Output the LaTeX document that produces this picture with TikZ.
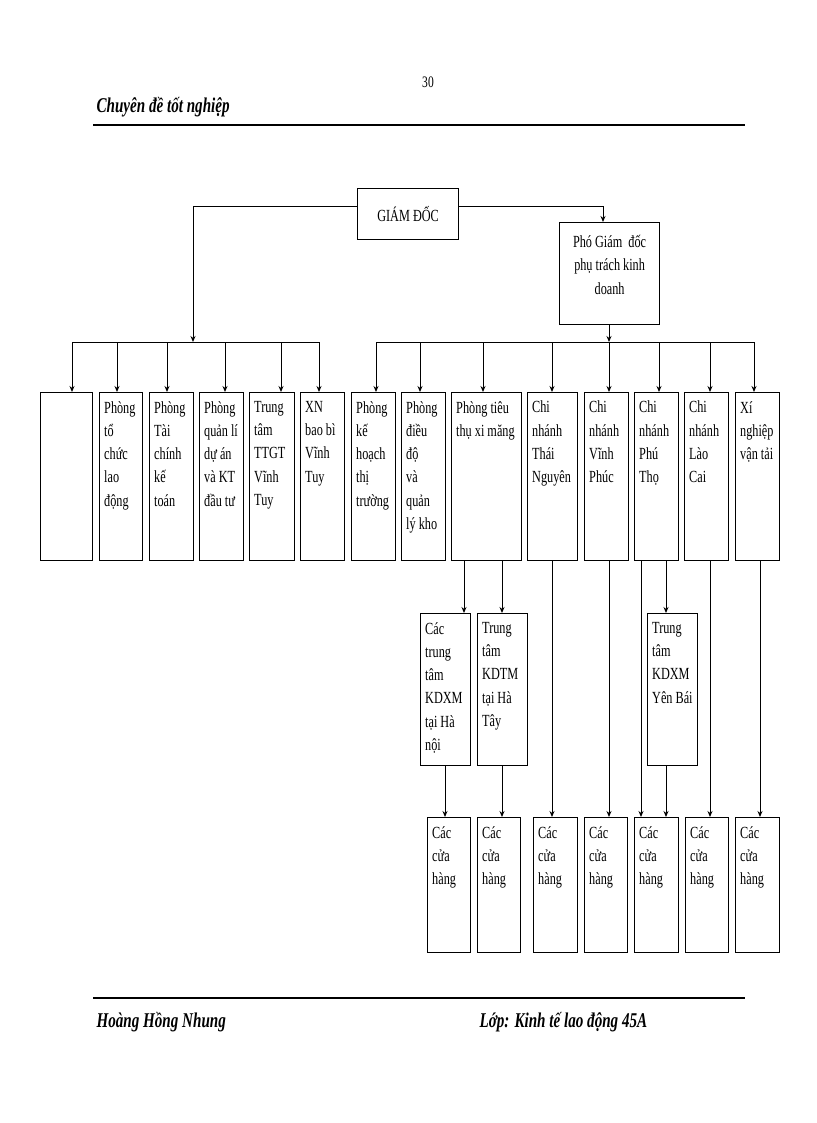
\documentclass[tikz,border=0pt]{standalone}
\usepackage{fontspec}
\setmainfont{Liberation Serif}
\newfontfamily\nar[FakeStretch=0.72]{Liberation Serif}
\usetikzlibrary{arrows.meta}
\newcommand\bx[6]{\node[bxs, minimum width=#4pt-#2pt, minimum height=#5pt-#3pt, anchor=north west] (#1) at (#2,#3) {};
\node[lbl, anchor=north west] (#1t) at ([xshift=5pt, yshift=-9pt]#1.north west) {#6};}
\begin{document}
\begin{tikzpicture}[x=1pt,y=-1pt,
 bxs/.style={draw, line width=1.2pt, inner sep=0pt},
 lbl/.style={inner sep=0pt, align=left, font=\nar\fontsize{17}{23.3}\selectfont},
 arr/.style={line width=0.9pt, -{Stealth[length=6pt,width=5pt]}},
 ln/.style={line width=0.9pt}]
\useasboundingbox (0,0) rectangle (816,1123);
\node (pg) at (428,82) {\fontsize{16}{18}\selectfont\nar 30};
\node[anchor=west] (hd) at (93,107) {\fontsize{21}{22}\selectfont\bfseries\itshape\nar Chuyên đề tốt nghiệp};
\draw[line width=2pt] (93,125) coordinate (h1) -- (745,125) coordinate (h2);
\draw[line width=2pt] (93,998) coordinate (f1) -- (745,998) coordinate (f2);
\node[anchor=west] (ft1) at (93,1022) {\fontsize{21}{22}\selectfont\bfseries\itshape\nar Hoàng Hồng Nhung};
\node[anchor=west] (ft2) at (476,1022) {\fontsize{21}{22}\selectfont\bfseries\itshape\nar Lớp: Kinh tế lao động 45A};
% top
\node[bxs, minimum width=101pt, minimum height=51pt, anchor=north west, font=\nar\fontsize{17}{18}\selectfont] (gd) at (357,188) {GIÁM ĐỐC};
\node[bxs, minimum width=100pt, minimum height=102pt, anchor=north west] (pgd) at (559,222) {};
\node[lbl, align=center, anchor=north] (pgdt) at ([yshift=-13pt]pgd.north) {Phó Giám \ đốc\\phụ trách kinh\\doanh};
\coordinate (lb) at (193,342);
\coordinate (rb) at (609,342);
\draw[arr] ([yshift=8pt]gd.west) -| (lb);
\draw[arr] ([yshift=8pt]gd.east) -| (603,222);
\draw[arr] (pgd.south -| rb) -- (rb);
\draw[ln] (72,342) -- (319,342);
\draw[ln] (376,342) -- (754,342);
% row boxes
\bx{b1}{40}{392}{92}{560}{}
\bx{b2}{99}{392}{142}{560}{Phòng\\tổ\\chức\\lao\\động}
\bx{b3}{149}{392}{193}{560}{Phòng\\Tài\\chính\\kế\\toán}
\bx{b4}{199}{392}{243}{560}{Phòng\\quản lí\\dự án\\và KT\\đầu tư}
\bx{b5}{249}{392}{294}{560}{Trung\\tâm\\TTGT\\Vĩnh\\Tuy}
\bx{b6}{300}{392}{344}{560}{XN\\bao bì\\Vĩnh\\Tuy}
\bx{c1}{351}{392}{395}{560}{Phòng\\kế\\hoạch\\thị\\trường}
\bx{c2}{401}{392}{445}{560}{Phòng\\điều\\độ\\và\\quản\\lý kho}
\bx{c3}{451}{392}{521}{560}{Phòng tiêu\\thụ xi măng}
\bx{c4}{527}{392}{577}{560}{Chi\\nhánh\\Thái\\Nguyên}
\bx{c5}{584}{392}{628}{560}{Chi\\nhánh\\Vĩnh\\Phúc}
\bx{c6}{634}{392}{678}{560}{Chi\\nhánh\\Phú\\Thọ}
\bx{c7}{684}{392}{728}{560}{Chi\\nhánh\\Lào\\Cai}
\bx{c8}{735}{392}{779}{560}{Xí\\nghiệp\\vận tải}
\foreach \x/\n in {72/b1,117/b2,167/b3,225/b4,281/b5,319/b6,376/c1,420/c2,483/c3,552/c4,609/c5,659/c6,710/c7,754/c8}
  \draw[arr] (\x,342) -- (\x,342 |- \n.north);
% second level
\bx{d1}{420}{613}{470}{765}{Các\\trung\\tâm\\KDXM\\tại Hà\\nội}
\bx{d2}{477}{613}{527}{765}{Trung\\tâm\\KDTM\\tại Hà\\Tây}
\bx{d3}{647}{613}{697}{765}{Trung\\tâm\\KDXM\\Yên Bái}
\draw[arr] (c3.south -| 464,0) -- (d1.north -| 464,0);
\draw[arr] (c3.south -| 502,0) -- (d2.north -| 502,0);
\draw[arr] (c6.south -| 666,0) -- (d3.north -| 666,0);
% bottom
\bx{e1}{427}{817}{470}{952}{Các\\cửa\\hàng}
\bx{e2}{477}{817}{520}{952}{Các\\cửa\\hàng}
\bx{e3}{533}{817}{577}{952}{Các\\cửa\\hàng}
\bx{e4}{584}{817}{627}{952}{Các\\cửa\\hàng}
\bx{e5}{634}{817}{678}{952}{Các\\cửa\\hàng}
\bx{e6}{685}{817}{728}{952}{Các\\cửa\\hàng}
\bx{e7}{735}{817}{779}{952}{Các\\cửa\\hàng}
\draw[arr] (d1.south -| 445,0) -- (e1.north -| 445,0);
\draw[arr] (d2.south -| 502,0) -- (e2.north -| 502,0);
\draw[arr] (c4.south -| 552,0) -- (e3.north -| 552,0);
\draw[arr] (c5.south -| 609,0) -- (e4.north -| 609,0);
\draw[arr] (c6.south -| 641,0) -- (e5.north -| 641,0);
\draw[arr] (d3.south -| 666,0) -- (e5.north -| 666,0);
\draw[arr] (c7.south -| 710,0) -- (e6.north -| 710,0);
\draw[arr] (c8.south -| 760,0) -- (e7.north -| 760,0);
\end{tikzpicture}
\end{document}
